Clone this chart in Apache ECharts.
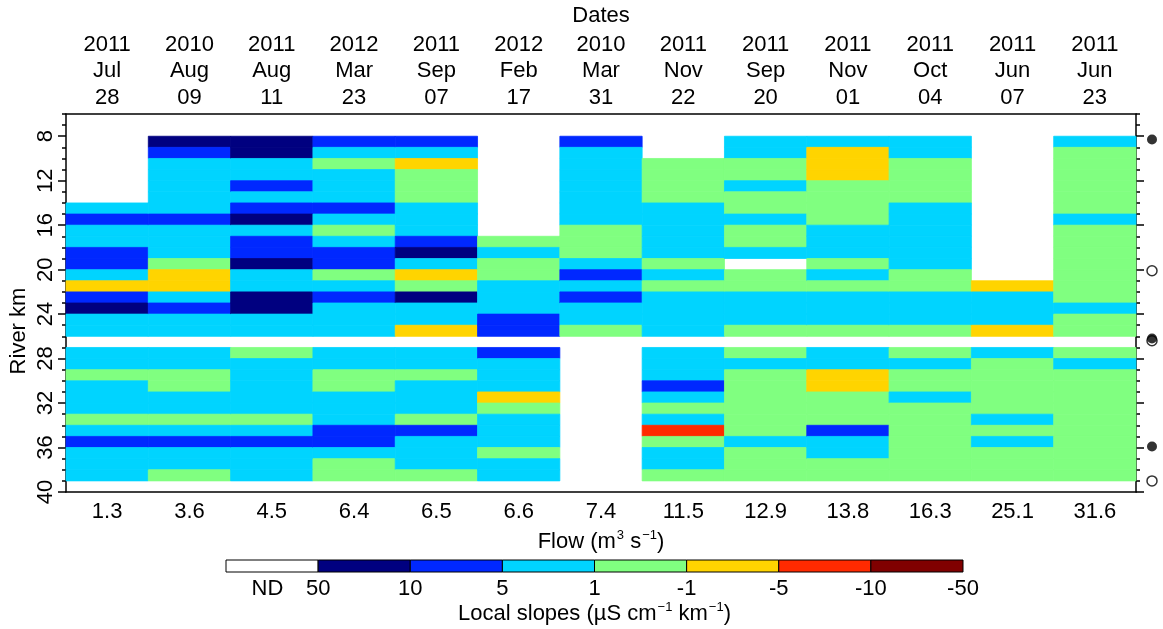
<!DOCTYPE html>
<html>
<head>
<meta charset="utf-8">
<script src="https://cdn.jsdelivr.net/npm/echarts@6/dist/echarts.min.js"></script>
<style>
  html, body { margin: 0; padding: 0; background: #ffffff; }
  #chart { width: 1163px; height: 629px; }
</style>
</head>
<body>
<div id="chart"></div>
<script>
// Survey flows (m3 s-1) and the matching survey dates
const flows = ['1.3', '3.6', '4.5', '6.4', '6.5', '6.6', '7.4', '11.5', '12.9', '13.8', '16.3', '25.1', '31.6'];
const dates = [
  '2011\nJul\n28', '2010\nAug\n09', '2011\nAug\n11', '2012\nMar\n23', '2011\nSep\n07',
  '2012\nFeb\n17', '2010\nMar\n31', '2011\nNov\n22', '2011\nSep\n20', '2011\nNov\n01',
  '2011\nOct\n04', '2011\nJun\n07', '2011\nJun\n23'
];

// Upstream edge of each 1-km river segment
const riverKm = [8, 9, 10, 11, 12, 13, 14, 15, 16, 17, 18, 19, 20, 21, 22, 23,
                 24, 25, 26, 27, 28, 29, 30, 31, 32, 33, 34, 35, 36, 37, 38];

// Local slope of conductivity per segment (uS cm-1 km-1), class mid values; null = no data
const N = null;
const slopeJul28 = [N, N, N, N, N, N, 3, 7, 3, 3, 7, 7, 3, -3, 7, 20, 3, 3, N, 3, 3, 0, 3, 3, 3, 0, 3, 7, 3, 3, 3];
const slopeAug09 = [20, 7, 3, 3, 3, 3, 3, 7, 3, 3, 3, 0, -3, -3, 3, 7, 3, 3, N, 3, 3, 0, 0, 3, 3, 0, 3, 7, 3, 3, 0];
const slopeAug11 = [20, 20, 3, 3, 7, 3, 7, 20, 3, 7, 7, 20, 3, 3, 20, 20, 3, 3, N, 0, 3, 3, 3, 3, 3, 0, 3, 7, 3, 3, 3];
const slopeMar23 = [7, 3, 0, 3, 3, 3, 7, 3, 0, 3, 7, 7, 0, 3, 7, 3, 3, 3, N, 3, 3, 0, 0, 3, 3, 3, 7, 7, 3, 0, 0];
const slopeSep07 = [7, 3, -3, 0, 0, 0, 3, 3, 3, 7, 20, 3, -3, 0, 20, 3, 3, -3, N, 3, 3, 0, 3, 3, 3, 0, 7, 3, 3, 3, 0];
const slopeFeb17 = [N, N, N, N, N, N, N, N, N, 0, 3, 0, 0, 3, 3, 3, 7, 7, N, 7, 3, 3, 3, -3, 0, 3, 3, 3, 0, 3, 3];
const slopeMar31 = [7, 3, 3, 3, 3, 3, 3, 3, 0, 0, 0, 3, 7, 3, 7, 3, 3, 0, N, N, N, N, N, N, N, N, N, N, N, N, N];
const slopeNov22 = [N, N, 0, 0, 0, 0, 3, 3, 3, 3, 3, 0, 3, 0, 3, 3, 3, 3, N, 3, 3, 3, 7, 3, 0, 3, -7, 0, 3, 3, 0];
const slopeSep20 = [3, 3, 0, 0, 3, 0, 0, 3, 0, 0, 3, N, 0, 0, 3, 3, 3, 0, N, 0, 3, 0, 0, 0, 0, 0, 0, 3, 0, 0, 0];
const slopeNov01 = [3, -3, -3, -3, 0, 0, 0, 0, 3, 3, 3, 0, 3, 0, 3, 3, 3, 0, N, 3, 3, -3, -3, 0, 0, 0, 7, 3, 3, 0, 0];
const slopeOct04 = [3, 3, 0, 0, 0, 0, 3, 3, 3, 3, 3, 3, 0, 0, 3, 3, 3, 0, N, 0, 3, 0, 0, 3, 0, 0, 0, 0, 0, 0, 0];
const slopeJun07 = [N, N, N, N, N, N, N, N, N, N, N, N, N, -3, 3, 3, 3, -3, N, 3, 0, 0, 0, 0, 0, 3, 0, 3, 0, 0, 0];
const slopeJun23 = [3, 0, 0, 0, 0, 0, 0, 3, 0, 0, 0, 0, 0, 0, 0, 3, 0, 0, N, 0, 3, 0, 0, 0, 0, 0, 0, 0, 0, 0, 0];

const slopeColumns = [slopeJul28, slopeAug09, slopeAug11, slopeMar23, slopeSep07, slopeFeb17, slopeMar31,
                      slopeNov22, slopeSep20, slopeNov01, slopeOct04, slopeJun07, slopeJun23];

// Colour classes (upper and lower bounds) and the colour bar labels
const classEdges = [50, 10, 5, 1, -1, -5, -10, -50];
const classColors = ['#000080', '#0028ff', '#00d4ff', '#80ff80', '#ffd400', '#ff2a00', '#800000'];
const noDataColor = '#ffffff';
const barLabels = ['ND', '50', '10', '5', '1', '-1', '-5', '-10', '-50'];
const barLabelPos = [0.45, 1, 2, 3, 4, 5, 6, 7, 8];
const yTicks = [8, 12, 16, 20, 24, 28, 32, 36, 40];

// Reference points along the river (right margin)
const filledKm = [8.3, 26.2, 35.9];
const openKm = [20.1, 26.4, 39.0];

function colorFor(v) {
  for (let i = 0; i < classColors.length; i++) {
    if (v <= classEdges[i] && v > classEdges[i + 1]) return classColors[i];
  }
  return noDataColor;
}

const cellData = [];
slopeColumns.forEach((col, c) => {
  col.forEach((v, r) => { if (v !== null) cellData.push([c, riverKm[r], v]); });
});

const barData = [[0, 0, noDataColor]];
classColors.forEach((col, i) => barData.push([i + 1, 0, col]));

const FONT = 'Liberation Sans, Arial, sans-serif';
const FS = 22;
const txt = { color: '#000', fontFamily: FONT, fontSize: FS };

const chart = echarts.init(document.getElementById('chart'), null, { renderer: 'canvas' });

chart.setOption({
  animation: false,
  backgroundColor: '#ffffff',
  textStyle: { fontFamily: FONT, color: '#000' },
  grid: [
    { left: 66, right: 27, top: 114, bottom: 137, outerBoundsMode: 'none' },
    { left: 1140, width: 24, top: 114, bottom: 137, outerBoundsMode: 'none' },
    { left: 226, width: 737, top: 560, height: 12, outerBoundsMode: 'none' }
  ],
  // Vertical axis title
  graphic: [
    {
      type: 'text', x: 19, y: 331, rotation: Math.PI / 2,
      style: { text: 'River km', fill: '#000', font: FS + 'px ' + FONT, align: 'center', verticalAlign: 'middle' }
    }
  ],
  xAxis: [
    {
      gridIndex: 0, type: 'category', data: flows, position: 'bottom',
      axisLine: { lineStyle: { color: '#000', width: 1.5 } },
      axisTick: { alignWithLabel: true, length: 6, lineStyle: { color: '#000', width: 1.5 } },
      axisLabel: Object.assign({ margin: 9 }, txt),
      splitLine: { show: false },
      name: '{n|Flow (m}{s|3}{n| s}{s|−1}{n|)}', nameLocation: 'middle', nameGap: 37,
      nameTextStyle: {
        rich: {
          n: { fontSize: FS, fontFamily: FONT, color: '#000', lineHeight: 26 },
          s: { fontSize: 13, fontFamily: FONT, color: '#000', lineHeight: 26, verticalAlign: 'top', padding: [0, 0, 0, 1] }
        }
      }
    },
    {
      gridIndex: 0, type: 'category', data: dates, position: 'top',
      axisLine: { lineStyle: { color: '#000', width: 1.5 } },
      axisTick: { alignWithLabel: true, length: 6, lineStyle: { color: '#000', width: 1.5 } },
      axisLabel: Object.assign({ margin: 3, lineHeight: 26.5 }, txt),
      splitLine: { show: false },
      name: 'Dates', nameLocation: 'middle', nameGap: 86,
      nameTextStyle: Object.assign({}, txt)
    },
    { gridIndex: 1, type: 'value', min: 0, max: 1, show: false },
    {
      gridIndex: 2, type: 'value', min: 0, max: 8,
      axisLine: { show: false }, axisTick: { show: false }, splitLine: { show: false },
      axisLabel: Object.assign({
        margin: 6,
        customValues: barLabelPos,
        formatter: (v) => barLabels[barLabelPos.indexOf(v)]
      }, txt),
      name: '{n|Local slopes (µS cm}{s|−1}{n| km}{s|−1}{n|)}', nameLocation: 'middle', nameGap: 28,
      nameTextStyle: {
        rich: {
          n: { fontSize: FS, fontFamily: FONT, color: '#000', lineHeight: 26 },
          s: { fontSize: 13, fontFamily: FONT, color: '#000', lineHeight: 26, verticalAlign: 'top', padding: [0, 0, 0, 1] }
        }
      }
    }
  ],
  yAxis: [
    {
      gridIndex: 0, type: 'value', inverse: true, min: 6, max: 40, position: 'left',
      axisLine: { show: true, lineStyle: { color: '#000', width: 1.5 } },
      axisTick: { show: true, length: 8, customValues: yTicks, lineStyle: { color: '#000', width: 1.5 } },
      axisLabel: Object.assign({ customValues: yTicks, rotate: 90, margin: 9 }, txt),
      splitLine: { show: false }
    },
    {
      gridIndex: 0, type: 'value', inverse: true, min: 6, max: 40, interval: 1, position: 'left',
      axisLine: { show: false },
      axisTick: { show: true, length: 4, lineStyle: { color: '#000', width: 1.5 } },
      axisLabel: { show: false }, splitLine: { show: false }
    },
    {
      gridIndex: 0, type: 'value', inverse: true, min: 6, max: 40, position: 'right',
      axisLine: { show: true, lineStyle: { color: '#000', width: 1.5 } },
      axisTick: { show: true, length: 8, customValues: yTicks, lineStyle: { color: '#000', width: 1.5 } },
      axisLabel: { show: false }, splitLine: { show: false }
    },
    {
      gridIndex: 0, type: 'value', inverse: true, min: 6, max: 40, interval: 1, position: 'right',
      axisLine: { show: false },
      axisTick: { show: true, length: 4, lineStyle: { color: '#000', width: 1.5 } },
      axisLabel: { show: false }, splitLine: { show: false }
    },
    { gridIndex: 1, type: 'value', inverse: true, min: 6, max: 40, show: false },
    { gridIndex: 2, type: 'value', min: 0, max: 1, show: false }
  ],
  series: [
    {
      name: 'Local slope', type: 'custom', xAxisIndex: 0, yAxisIndex: 0,
      data: cellData,
      renderItem: (params, api) => {
        const c = api.value(0), km = api.value(1);
        const a = api.coord([c, km]);
        const b = api.coord([c, km + 1]);
        const w = api.size([1, 0])[0];
        const col = colorFor(api.value(2));
        return {
          type: 'rect',
          shape: { x: a[0] - w / 2, y: Math.min(a[1], b[1]), width: w, height: Math.abs(b[1] - a[1]) },
          style: { fill: col, stroke: col, lineWidth: 0.8 }
        };
      }
    },
    {
      name: 'Open', type: 'scatter', xAxisIndex: 2, yAxisIndex: 4,
      data: openKm.map(k => [0.5, k]),
      symbol: 'circle', symbolSize: 10,
      itemStyle: { color: '#ffffff', borderColor: '#000', borderWidth: 1.5 }
    },
    {
      name: 'Filled', type: 'scatter', xAxisIndex: 2, yAxisIndex: 4,
      data: filledKm.map(k => [0.5, k]),
      symbol: 'circle', symbolSize: 10,
      itemStyle: { color: '#000' }
    },
    {
      name: 'Colour bar', type: 'custom', xAxisIndex: 3, yAxisIndex: 5,
      data: barData,
      renderItem: (params, api) => {
        const a = api.coord([api.value(0), 0]);
        const b = api.coord([api.value(0) + 1, 1]);
        return {
          type: 'rect',
          shape: { x: a[0], y: b[1], width: b[0] - a[0], height: a[1] - b[1] },
          style: { fill: barData[params.dataIndex][2], stroke: '#000', lineWidth: 1 }
        };
      }
    }
  ]
});
</script>
</body>
</html>
